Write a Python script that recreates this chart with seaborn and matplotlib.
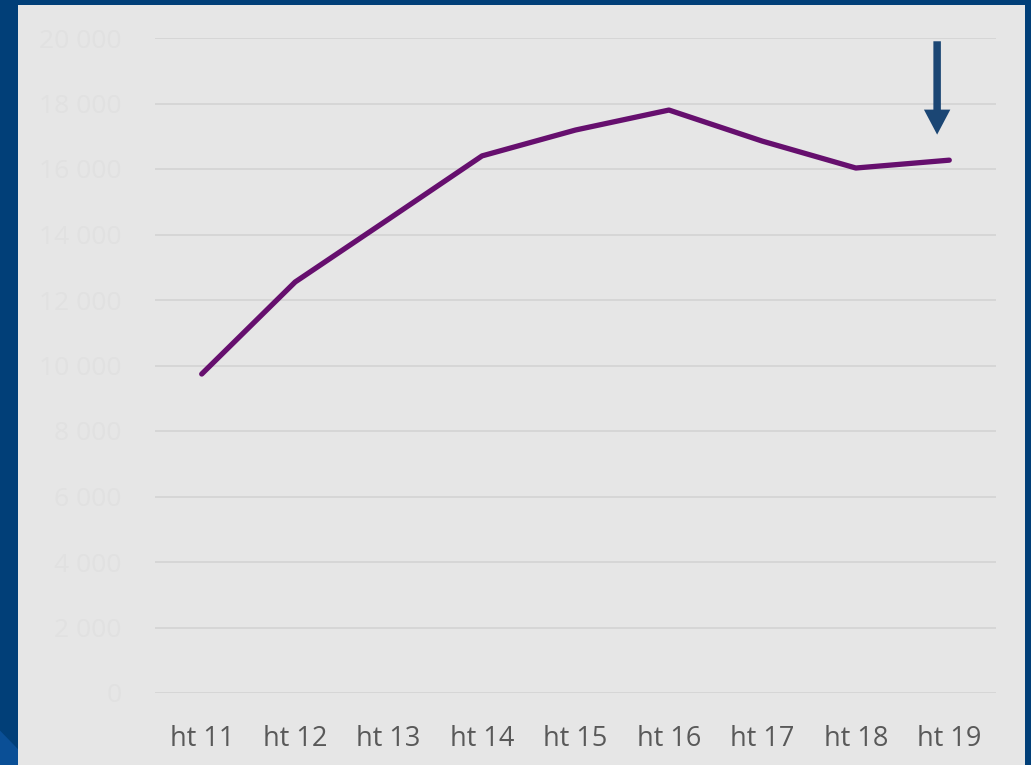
import pandas as pd
import matplotlib.pyplot as plt
import seaborn as sns
from matplotlib.patches import Rectangle, Polygon

sns.set_theme(style="whitegrid")
plt.rcParams['font.family'] = ['Open Sans', 'DejaVu Sans']

# data
terms = ['ht 11', 'ht 12', 'ht 13', 'ht 14', 'ht 15', 'ht 16', 'ht 17', 'ht 18', 'ht 19']
values = [9740, 12550, 14470, 16400, 17190, 17800, 16850, 16030, 16270]
yticks = [0, 2000, 4000, 6000, 8000, 10000, 12000, 14000, 16000, 18000, 20000]
ytick_labels = ['0', '2 000', '4 000', '6 000', '8 000', '10 000', '12 000',
                '14 000', '16 000', '18 000', '20 000']

df = pd.DataFrame({'term': terms, 'value': values})

fig = plt.figure(figsize=(10.31, 7.65), dpi=100)
fig.patch.set_facecolor('#013f78')
# lighter corner in the slide background
fig.patches.append(Polygon([[0, 0], [0, 0.045], [0.018, 0.02], [0.018, 0]], closed=True,
                           transform=fig.transFigure, facecolor='#0a4f96',
                           edgecolor='none', zorder=0))
# grey chart panel
fig.patches.append(Rectangle((18 / 1031, 0), (1025 - 18) / 1031, 760 / 765,
                             transform=fig.transFigure, facecolor='#e6e6e6',
                             edgecolor='none', zorder=1))

ax = fig.add_axes([155 / 1031, 72 / 765, 841 / 1031, 655 / 765])
ax.set_facecolor('none')
ax.set_zorder(2)

sns.lineplot(data=df, x='term', y='value', color='#660f6e', linewidth=3.8,
             sort=False, ax=ax, solid_capstyle='round')

ax.set_xlim(-0.5, len(terms) - 0.5)
ax.set_ylim(0, 20000)
ax.set_yticks(yticks)
ax.set_yticklabels(ytick_labels)
ax.set_xlabel('')
ax.set_ylabel('')
ax.grid(axis='y', color='#d6d6d6', linewidth=1.4)
ax.grid(axis='x', visible=False)
for s in ax.spines.values():
    s.set_visible(False)
ax.tick_params(axis='y', labelsize=19, labelcolor='#e1e1e1', pad=24, length=0)
ax.tick_params(axis='x', labelsize=19.5, labelcolor='#595959', pad=23, length=0)

# arrow pointing at the last point
ax.annotate('', xy=(7.87, 17050), xytext=(7.87, 19900),
            arrowprops=dict(arrowstyle='simple,head_length=0.9,head_width=0.95,tail_width=0.27',
                            mutation_scale=20, color='#1b4674', linewidth=0,
                            shrinkA=0, shrinkB=0))

fig.savefig('out.png', dpi=100, facecolor=fig.get_facecolor())
